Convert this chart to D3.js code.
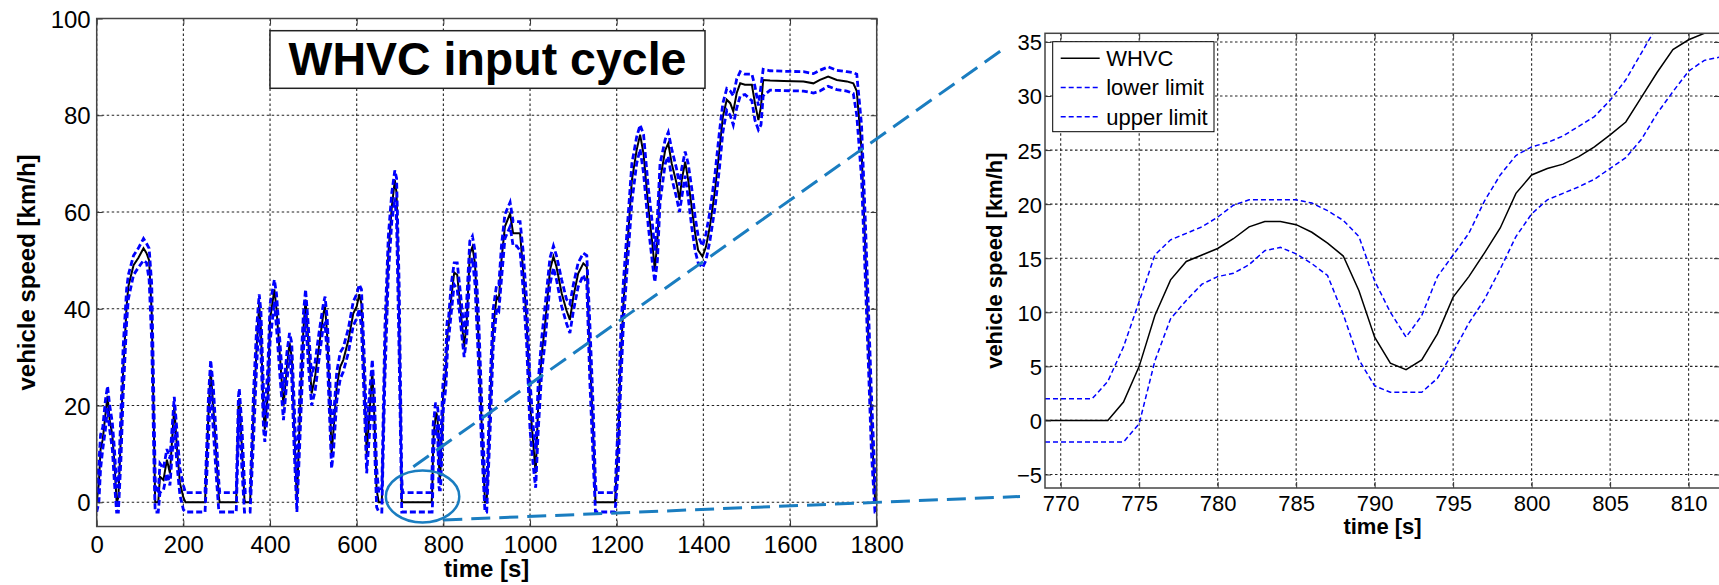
<!DOCTYPE html>
<html>
<head>
<meta charset="utf-8">
<script src="https://cdn.jsdelivr.net/npm/d3@7"></script>
<style>
  html, body { margin: 0; padding: 0; background: #fff; overflow: hidden; }
  text { font-family: "Liberation Sans", Arial, sans-serif; fill: #000; }
</style>
</head>
<body>
<div id="chart"></div>
<script>
// ---- overview (whole cycle), [time s, km/h], outside the zoom window ----
const ovSpeed = [[0,0],[5,4],[9,11],[14,13],[20,18],[25,22],[30,17],[36,14],[41,8],[46,0],[50,1],[56,14],[61,27],[69,40.5],[73,44.6],[85,49],[96,50.5],[108,52.5],[115,51.5],[121,50],[127,39],[133,10],[135,0],[142,0],[146,5.3],[154,4.6],[162,8.8],[169,6],[179,19.8],[185,11.5],[192,4],[200,1],[205,0],[250,0],[258,18.4],[263,27.4],[269,19.8],[277,8],[282,1],[284,0],[322,0],[327,19.8],[329,21.5],[335,11.5],[341,0.5],[343,0],[354,0],[362,18.4],[369,32],[375,41],[379,35.7],[385,18.4],[388,15],[395,22.5],[400,37.7],[410,44],[415,39.8],[423,30],[431,19.8],[439,28],[445,33],[450,30],[456,15],[462,0],[469,18.4],[477,35.7],[482,41.9],[488,33.6],[496,22.5],[504,26],[513,32.2],[523,39],[527,40.5],[532,34.3],[539,18.4],[542,10],[546,14.3],[554,24],[562,28],[569,29.4],[581,33.6],[592,39],[600,40.5],[606,43],[611,41],[618,24],[623,10],[631,20.4],[636,27.3],[641,17],[646,2.5],[651,0],[658,0],[665,30.8],[673,51.4],[681,61],[688,66.6],[692,63.9],[698,37.7],[704,0],[768,0],
  [818,42],[825,47.5],[832,47],[842,37.7],[848,32],[854,37.7],[861,51.4],[867,52.8],[873,49.4],[881,34],[888,17],[896,0],[900,0],[908,20.4],[915,36],[923,42.5],[928,41.8],[934,50],[942,57],[954,59.7],[961,55.6],[969,55.6],[977,55.6],[984,48],[992,37.7],[1000,20.4],[1008,11.4],[1013,6],[1019,20.4],[1027,30.8],[1034,36],[1046,48],[1054,50.8],[1061,48.7],[1073,43.2],[1084,39.7],[1092,37.7],[1100,42.5],[1111,47.3],[1123,49.4],[1131,48.7],[1138,30.8],[1146,13.5],[1151,0],[1196,0],[1204,12.8],[1208,26.6],[1215,40.4],[1223,50.8],[1235,66.6],[1246,72.8],[1254,76],[1262,72],[1273,61],[1283,52.8],[1288,48],[1294,54.2],[1300,66.6],[1312,72.8],[1319,74.2],[1327,70],[1338,66],[1345,62.5],[1350,66.6],[1358,70.4],[1365,66.6],[1373,61],[1381,55.6],[1388,52.1],[1398,50.8],[1406,52.8],[1415,57],[1427,64.6],[1437,72.8],[1445,79.7],[1454,83.2],[1462,82.5],[1469,80.8],[1477,84.6],[1485,86.6],[1496,86.3],[1512,86.3],[1519,82.5],[1527,79],[1533,81.8],[1538,87.3],[1554,87.2],[1585,87.1],[1631,87],[1654,86.6],[1669,87.3],[1688,88],[1708,87.3],[1731,87],[1746,86.6],[1754,85],[1765,73],[1773,54],[1781,33.5],[1788,16],[1796,1],[1800,0]];

const ovLower = [[0,-2],[5,0],[9,7],[14,11],[20,15],[25,19.5],[30,15],[36,11],[41,4],[46,-2],[50,-2],[56,9],[61,22],[69,37],[73,42],[85,47],[96,48.5],[108,50],[115,49.5],[121,46],[127,33],[133,4],[135,-2],[142,-2],[146,2],[154,2.5],[162,6],[169,3.5],[179,16],[185,8],[192,1.5],[200,-1.5],[205,-2],[250,-2],[258,13],[263,24],[269,15],[277,4],[282,-2],[284,-2],[322,-2],[327,14],[329,19],[335,7],[341,-2],[343,-2],[354,-2],[362,13],[369,28],[375,38],[379,31],[385,15],[388,12.5],[395,19],[400,33],[410,41.5],[415,36],[423,26],[431,17],[439,25],[445,30.5],[450,26],[456,10],[462,-2],[469,13],[477,31],[482,39],[488,29],[496,20],[504,23],[513,29.5],[523,36.5],[527,37],[532,30],[539,14],[542,7],[546,10],[554,21],[562,25.5],[569,27],[581,31],[592,36.5],[600,38],[606,40],[611,36],[618,19],[623,6],[631,16],[636,23],[641,12],[646,-1],[651,-2],[658,-2],[665,25],[673,47],[681,58],[688,63],[692,58],[698,30],[704,-2],[768,-2],
  [818,39],[825,45],[832,44],[842,35],[848,30],[854,34],[861,48],[867,50.5],[873,45],[881,29],[888,12],[896,-2],[900,-2],[908,15],[915,32],[923,40],[928,39.5],[934,46],[942,54.5],[954,57],[961,53],[969,53],[977,52],[984,44],[992,33],[1000,15],[1008,7],[1013,3],[1019,15],[1027,27],[1034,32.5],[1046,45],[1054,48.5],[1061,46],[1073,40.5],[1084,37],[1092,35],[1100,39.5],[1111,44.5],[1123,47],[1131,45],[1138,25],[1146,8],[1151,-2],[1196,-2],[1204,7],[1208,21],[1215,36],[1223,47],[1235,62],[1246,70],[1254,73],[1262,68],[1273,57],[1283,49],[1288,45.5],[1294,50],[1300,62],[1312,70],[1319,71.5],[1327,67],[1338,63],[1345,60],[1350,63],[1358,67.5],[1365,63],[1373,57],[1381,52],[1388,49.5],[1398,48.5],[1406,50],[1415,54],[1427,61],[1437,69],[1445,76.5],[1454,81],[1462,80],[1469,78],[1477,81.5],[1485,84],[1496,84.3],[1512,83],[1519,79],[1527,77],[1533,78],[1538,84],[1554,85.2],[1585,85.1],[1631,85],[1654,84.6],[1669,85],[1688,86],[1708,85.3],[1731,85],[1746,84.5],[1754,80],[1765,67],[1773,48],[1781,28],[1788,10],[1796,-2],[1800,-2]];

const ovUpper = [[0,2],[5,8],[9,14],[14,15.5],[20,21],[25,24],[30,20],[36,16.5],[41,11],[46,3],[50,4],[56,19],[61,32],[69,44],[73,47],[85,51],[96,52.5],[108,54.5],[115,53.5],[121,52.5],[127,45],[133,16],[135,5],[137,2],[142,2],[146,8],[154,7],[162,11],[169,9],[179,21.8],[185,15],[192,7],[200,3.5],[205,2],[250,2],[258,22],[263,29.4],[269,24],[277,12],[282,4],[284,2],[322,2],[327,21.8],[329,23.5],[335,16],[341,4],[343,2],[354,2],[362,23],[369,36],[375,43],[379,39.5],[385,23],[388,18],[395,28],[400,41],[410,46],[415,43],[423,33],[431,23],[439,31],[445,35],[450,33],[456,20],[462,4],[469,24],[477,39],[482,44],[488,37],[496,26],[504,29],[513,35],[523,41],[527,42.5],[532,38],[539,23],[542,15],[546,17],[554,27],[562,31],[569,32],[581,36],[592,41.5],[600,43],[606,45],[611,44],[618,29],[623,15],[631,24],[636,29.5],[641,22],[646,7],[651,2],[658,3],[665,36],[673,55],[681,64],[688,68.6],[692,67],[698,45],[704,5],[706,2],[768,2],
  [818,45],[825,49.5],[832,49.5],[842,41],[848,35],[854,42],[861,54],[867,55],[873,52],[881,39],[888,22],[896,4],[898,2],[900,3],[908,25],[915,40],[923,45],[928,45],[934,53],[942,59.5],[954,62],[961,58],[969,58],[977,58],[984,52],[992,42],[1000,25],[1008,15],[1013,11],[1019,25],[1027,34],[1034,40],[1046,50.5],[1054,53],[1061,51],[1073,46],[1084,42],[1092,41],[1100,45],[1111,49.5],[1123,51.5],[1131,51],[1138,37],[1146,19],[1151,4],[1153,2],[1196,2],[1204,18],[1208,32],[1215,45],[1223,55],[1235,70],[1246,75.5],[1254,78],[1262,76],[1273,65],[1283,57],[1288,52],[1294,59],[1300,70],[1312,75],[1319,76.5],[1327,73],[1338,69],[1345,65.5],[1350,69],[1358,72.5],[1365,70],[1373,65],[1381,59],[1388,55],[1398,53],[1406,55.5],[1415,60],[1427,68],[1437,76.5],[1445,82.5],[1454,85.5],[1462,85],[1469,84],[1477,87.5],[1485,89],[1496,88.5],[1512,88.5],[1519,86],[1527,82],[1533,86],[1538,89.5],[1554,89.2],[1585,89.1],[1631,89],[1654,88.6],[1669,89.3],[1688,90],[1708,89.3],[1731,89],[1746,88.8],[1754,88.5],[1765,78],[1773,60],[1781,40],[1788,22],[1796,5],[1800,2]];

// ---- zoom window 769..812 s, one value per second ----
const zoomTime = [769,770,771,772,773,774,775,776,777,778,779,780,781,782,783,784,785,786,787,788,789,790,791,792,793,794,795,796,797,798,799,800,801,802,803,804,805,806,807,808,809,810,811,812];
const zoomWhvc  = [0,0,0,0,0,1.7,5,9.7,13,14.7,15.3,15.9,16.8,17.9,18.4,18.4,18.1,17.4,16.4,15.2,12,7.7,5.3,4.7,5.6,8,11.4,13.3,15.5,17.8,21,22.7,23.3,23.7,24.4,25.3,26.4,27.6,29.9,32.2,34.3,35.2,35.8,36.1];
const zoomLower = [-2,-2,-2,-2,-2,-2,-0.3,5.5,9.4,11.1,12.6,13.3,13.6,14.4,15.7,16,15.4,14.5,13.4,9.8,5.6,3.2,2.6,2.6,2.6,3.9,6.3,9,11.2,14,17,19.1,20.4,21,21.6,22.3,23.3,24.3,26,28.4,30.4,32.3,33.3,33.6];
const zoomUpper = [2,2,2,2,3.6,6.8,11,15.3,16.7,17.3,17.9,18.8,19.9,20.4,20.4,20.4,20.4,20.1,19.4,18.5,17,12.9,10,7.7,9.7,13.3,15.3,17.3,20.3,22.7,24.5,25.3,25.7,26.3,27.2,28.1,29.6,31.5,34,36.5,37.5,38,38,38.1];

// ---- ticks ----
const mainTimeTicks  = [0,200,400,600,800,1000,1200,1400,1600,1800];
const mainSpeedTicks = [0,20,40,60,80,100];
const zoomTimeTicks  = [770,775,780,785,790,795,800,805,810];
const zoomSpeedTicks = [-5,0,5,10,15,20,25,30,35];

const seriesNames = ["WHVC", "lower limit", "upper limit"];

const W = 1719, H = 585;
const mainBox = {left: 96.7, right: 876.7, top: 18.5, bottom: 526.5};
const zoomBox = {left: 1045, right: 1720, top: 33.3, bottom: 488};

const svg = d3.select("#chart").append("svg")
    .attr("width", W)
    .attr("height", H);

function merge(ov, values) {
    // overview points outside the window + the per-second zoom points
    const win = zoomTime.map((t, i) => [t, values[i]]);
    return ov.concat(win).sort((a, b) => a[0] - b[0]);
}

function drawPanel(box, xDomain, yDomain, xTicks, yTicks, id) {
    const x = d3.scaleLinear().domain(xDomain).range([box.left, box.right]);
    const y = d3.scaleLinear().domain(yDomain).range([box.bottom, box.top]);

    svg.append("clipPath").attr("id", id)
      .append("rect")
        .attr("x", box.left).attr("y", box.top)
        .attr("width", box.right - box.left)
        .attr("height", box.bottom - box.top);

    // dotted grid
    const grid = svg.append("g").attr("class", "grid")
        .attr("stroke", "#222").attr("stroke-width", 1.1).attr("stroke-dasharray", "2.5,2.5");
    grid.selectAll("line.v").data(xTicks).enter().append("line")
        .attr("x1", d => x(d)).attr("x2", d => x(d))
        .attr("y1", box.top).attr("y2", box.bottom);
    grid.selectAll("line.h").data(yTicks).enter().append("line")
        .attr("x1", box.left).attr("x2", box.right)
        .attr("y1", d => y(d)).attr("y2", d => y(d));

    const plot = svg.append("g").attr("clip-path", "url(#" + id + ")");
    return {x: x, y: y, plot: plot};
}

function drawAxes(p, box, xTicks, yTicks, fontSize, xLabelY, yLabelGap) {
    const fmt = d3.format("d");
    const xAxis = svg.append("g")
        .attr("transform", "translate(0," + box.bottom + ")")
        .call(d3.axisBottom(p.x).tickValues(xTicks).tickFormat(fmt).tickSizeInner(-6).tickSizeOuter(0));
    xAxis.selectAll("text").attr("y", xLabelY).attr("dy", 0);

    const yAxis = svg.append("g")
        .attr("transform", "translate(" + box.left + ",0)")
        .call(d3.axisLeft(p.y).tickValues(yTicks).tickFormat(fmt).tickSizeInner(-6).tickSizeOuter(0));
    yAxis.selectAll("text").attr("x", -yLabelGap).attr("dy", "0.36em");

    // ticks only on the opposite sides
    const top = svg.append("g")
        .attr("transform", "translate(0," + box.top + ")")
        .call(d3.axisTop(p.x).tickValues(xTicks).tickSizeInner(-6).tickSizeOuter(0));
    const right = svg.append("g")
        .attr("transform", "translate(" + box.right + ",0)")
        .call(d3.axisRight(p.y).tickValues(yTicks).tickSizeInner(-6).tickSizeOuter(0));
    top.selectAll("text").remove();
    right.selectAll("text").remove();

    [xAxis, yAxis, top, right].forEach(g => {
        g.select(".domain").remove();
        g.selectAll(".tick line").attr("stroke", "#333");
        g.selectAll("text")
            .style("font-family", "'Liberation Sans', Arial, sans-serif")
            .style("font-size", fontSize + "px")
            .attr("fill", "#000");
    });

    svg.append("rect")
        .attr("x", box.left).attr("y", box.top)
        .attr("width", box.right - box.left)
        .attr("height", box.bottom - box.top)
        .attr("fill", "none").attr("stroke", "#444").attr("stroke-width", 1.5);
}

// ---- overview panel ----
const main = drawPanel(mainBox, [0, 1800], [-5, 100], mainTimeTicks, mainSpeedTicks, "clipMain");
const mainLine = d3.line().x(d => main.x(d[0])).y(d => main.y(d[1]));

main.plot.append("path").datum(merge(ovSpeed, zoomWhvc))
    .attr("d", mainLine).attr("fill", "none")
    .attr("stroke", "#000").attr("stroke-width", 2);
[merge(ovLower, zoomLower), merge(ovUpper, zoomUpper)].forEach(s => {
    main.plot.append("path").datum(s)
        .attr("d", mainLine).attr("fill", "none")
        .attr("stroke", "#0000ff").attr("stroke-width", 2.8)
        .attr("stroke-dasharray", "6,3");
});
drawAxes(main, mainBox, mainTimeTicks, mainSpeedTicks, 24, 26.5, 6);

// ---- zoom panel ----
const zoom = drawPanel(zoomBox, [769, 812], [-6.25, 35.8], zoomTimeTicks, zoomSpeedTicks, "clipZoom");
const zoomLine = d3.line().x(d => zoom.x(d[0])).y(d => zoom.y(d[1]));
const zoomSeries = [zoomWhvc, zoomLower, zoomUpper].map(v => zoomTime.map((t, i) => [t, v[i]]));

zoomSeries.forEach((s, i) => {
    zoom.plot.append("path").datum(s)
        .attr("d", zoomLine).attr("fill", "none")
        .attr("stroke", i === 0 ? "#000" : "#0000ff")
        .attr("stroke-width", 1.5)
        .attr("stroke-dasharray", i === 0 ? null : "5,3");
});
drawAxes(zoom, zoomBox, zoomTimeTicks, zoomSpeedTicks, 22, 23, 3);

// axis titles
svg.append("text")
    .attr("transform", "translate(35," + (mainBox.top + mainBox.bottom) / 2 + ") rotate(-90)")
    .attr("text-anchor", "middle")
    .style("font-size", "24px").style("font-weight", "bold")
    .text("vehicle speed [km/h]");
svg.append("text")
    .attr("x", (mainBox.left + mainBox.right) / 2).attr("y", 577)
    .attr("text-anchor", "middle")
    .style("font-size", "24px").style("font-weight", "bold")
    .text("time [s]");
svg.append("text")
    .attr("transform", "translate(1002," + (zoomBox.top + zoomBox.bottom) / 2 + ") rotate(-90)")
    .attr("text-anchor", "middle")
    .style("font-size", "22px").style("font-weight", "bold")
    .text("vehicle speed [km/h]");
svg.append("text")
    .attr("x", (zoomBox.left + zoomBox.right) / 2).attr("y", 534)
    .attr("text-anchor", "middle")
    .style("font-size", "22px").style("font-weight", "bold")
    .text("time [s]");

// title box
svg.append("rect")
    .attr("x", 270).attr("y", 30.7).attr("width", 435).attr("height", 57.6)
    .attr("fill", "#fff").attr("stroke", "#222").attr("stroke-width", 1.5);
svg.append("text")
    .attr("x", 487.5).attr("y", 75)
    .attr("text-anchor", "middle")
    .style("font-size", "46.5px").style("font-weight", "bold")
    .text("WHVC input cycle");

// legend
const legend = svg.append("g").attr("transform", "translate(1052.7,41.7)");
legend.append("rect")
    .attr("width", 161.3).attr("height", 90)
    .attr("fill", "#fff").attr("stroke", "#000").attr("stroke-width", 1);
seriesNames.forEach((name, i) => {
    const cy = 16.5 + i * 29.3;
    legend.append("line")
        .attr("x1", 8).attr("x2", 47).attr("y1", cy).attr("y2", cy)
        .attr("stroke", i === 0 ? "#000" : "#0000ff").attr("stroke-width", 1.5)
        .attr("stroke-dasharray", i === 0 ? null : "5,3");
    legend.append("text")
        .attr("x", 53.5).attr("y", cy).attr("dy", "0.36em")
        .style("font-size", "22px")
        .text(name);
});

// callout: ellipse around the zoomed stretch and the connecting dashed lines
const callout = "#1a7dc0";
svg.append("ellipse")
    .attr("cx", main.x(752)).attr("cy", main.y(1.2))
    .attr("rx", 36.7).attr("ry", 26)
    .attr("fill", "none").attr("stroke", callout).attr("stroke-width", 2.5);
[[[413.3, 466.7], [1006.7, 46.7]], [[443.3, 520], [1020, 496.5]]].forEach(l => {
    svg.append("line")
        .attr("x1", l[0][0]).attr("y1", l[0][1])
        .attr("x2", l[1][0]).attr("y2", l[1][1])
        .attr("stroke", callout).attr("stroke-width", 3)
        .attr("stroke-dasharray", "19,9");
});
</script>
</body>
</html>
